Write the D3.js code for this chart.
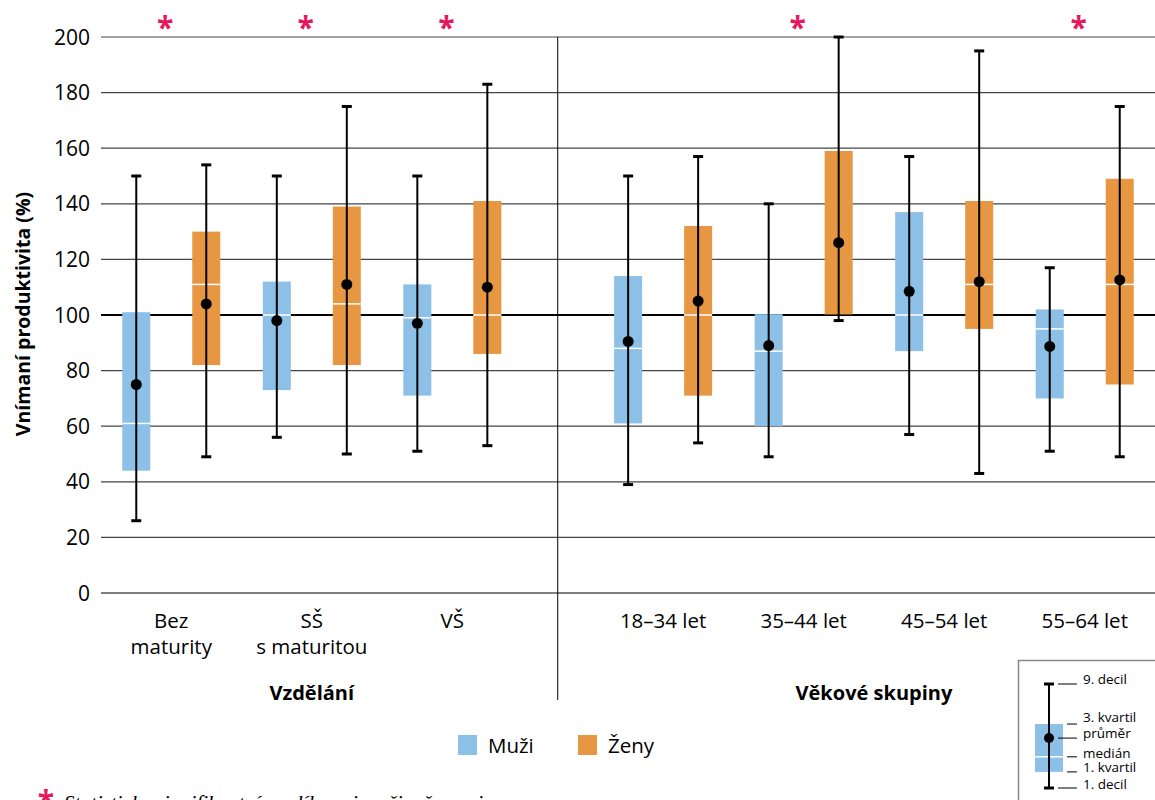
<!DOCTYPE html>
<html>
<head>
<meta charset="utf-8">
<script src="https://cdn.jsdelivr.net/npm/d3@7"></script>
<style>
  body { margin: 0; background: #fff; }
  svg { font-family: 'Open Sans', sans-serif; }
</style>
</head>
<body>
<div id="chart"></div>
<script>
// categories (line breaks split with \n)
const categories = ['Bez\nmaturity', 'SŠ\ns maturitou', 'VŠ', '18–34 let', '35–44 let', '45–54 let', '55–64 let'];
const groupNames = ['Vzdělání', 'Věkové skupiny'];
const categoryGroup = [0, 0, 0, 1, 1, 1, 1];
const significant = [true, true, true, false, true, false, true];
const yTicks = [0, 20, 40, 60, 80, 100, 120, 140, 160, 180, 200];

const seriesNames = ['Muži', 'Ženy'];
const seriesColors = ['#8cc0e6', '#e79642'];

// Muži
const menDecil1 = [26, 56, 51, 39, 49, 57, 51];
const menQ1 = [44, 73, 71, 61, 60, 87, 70];
const menMedian = [61, 100, 99, 88, 87, 100, 95];
const menMean = [75, 98, 97, 90.5, 89, 108.5, 88.7];
const menQ3 = [101, 112, 111, 114, 100.3, 137, 102];
const menDecil9 = [150, 150, 150, 150, 140, 157, 117];

// Ženy
const womenDecil1 = [49, 50, 53, 54, 98, 43, 49];
const womenQ1 = [82, 82, 86, 71, 100.2, 95, 75];
const womenMedian = [111, 104, 100, 100, 100.2, 111, 111];
const womenMean = [104, 111, 110, 105, 126, 112, 112.6];
const womenQ3 = [130, 139, 141, 132, 159, 141, 149];
const womenDecil9 = [154, 175, 183, 157, 200, 195, 175];

// legend key (sample box) and its labels
const keyValues = { d1: 0, q1: 15.5, median: 30, mean: 48, q3: 61.5, d9: 100 };
const keyLabels = [
  { key: 'd9', text: '9. decil', long: true, dy: 0 },
  { key: 'q3', text: '3. kvartil', long: false, dy: -2 },
  { key: 'mean', text: 'průměr', long: true, dy: 0 },
  { key: 'median', text: 'medián', long: false, dy: 1.5 },
  { key: 'q1', text: '1. kvartil', long: false, dy: 0.5 },
  { key: 'd1', text: '1. decil', long: true, dy: 1 }
];

const width = 1155;
const height = 800;

const svg = d3.select('#chart')
  .append('svg')
  .attr('width', width)
  .attr('height', height);

const y = d3.scaleLinear().domain([0, 200]).range([593, 37]);
// 7 categories + half a slot gap between the two groups
const xSlot = d3.scaleLinear().domain([0, 7.5]).range([101, 1155]);
const slotOf = (i) => (categoryGroup[i] === 0 ? i : i + 0.5);
const center = (i) => xSlot(slotOf(i) + 0.5);
const offset = d3.scalePoint().domain(seriesNames).range([-35, 35]);
const boxW = 28;
const capW = 10;

// gridlines
svg.append('g')
  .selectAll('line')
  .data(yTicks)
  .join('line')
  .attr('x1', xSlot(0))
  .attr('x2', xSlot(7.5))
  .attr('y1', (d) => y(d))
  .attr('y2', (d) => y(d))
  .attr('stroke', (d) => (d === 100 || d === 0 ? '#000' : '#444'))
  .attr('stroke-width', (d) => (d === 100 ? 2 : 1.2));

svg.append('g')
  .selectAll('text')
  .data(yTicks)
  .join('text')
  .attr('x', 90)
  .attr('y', (d) => y(d))
  .attr('dy', '0.36em')
  .attr('text-anchor', 'end')
  .attr('font-size', 21)
  .text((d) => d);

// divider between groups
svg.append('line')
  .attr('x1', xSlot(3.25))
  .attr('x2', xSlot(3.25))
  .attr('y1', y(200))
  .attr('y2', 700)
  .attr('stroke', '#000')
  .attr('stroke-width', 1);

svg.append('text')
  .attr('transform', `translate(30, ${y(100) - 1}) rotate(-90)`)
  .attr('text-anchor', 'middle')
  .attr('font-size', 19.5)
  .attr('font-weight', 'bold')
  .text('Vnímaní produktivita (%)');

// build rows per box
const series = [
  { name: 'Muži', d1: menDecil1, q1: menQ1, median: menMedian, mean: menMean, q3: menQ3, d9: menDecil9 },
  { name: 'Ženy', d1: womenDecil1, q1: womenQ1, median: womenMedian, mean: womenMean, q3: womenQ3, d9: womenDecil9 }
];
const boxes = [];
series.forEach((s, si) => {
  categories.forEach((c, i) => {
    boxes.push({
      x: center(i) + offset(s.name),
      color: seriesColors[si],
      d1: s.d1[i], q1: s.q1[i], median: s.median[i], mean: s.mean[i], q3: s.q3[i], d9: s.d9[i]
    });
  });
});

function drawBox(g, b, yScale, bw, cw, r) {
  g.append('rect')
    .attr('x', b.x - bw / 2)
    .attr('y', yScale(b.q3))
    .attr('width', bw)
    .attr('height', yScale(b.q1) - yScale(b.q3))
    .attr('fill', b.color);
  // median only shows when it lies inside the box
  if (b.median > b.q1 && b.median < b.q3) {
    g.append('line')
      .attr('x1', b.x - bw / 2)
      .attr('x2', b.x + bw / 2)
      .attr('y1', yScale(b.median))
      .attr('y2', yScale(b.median))
      .attr('stroke', '#fff')
      .attr('stroke-width', 1.5);
  }
  g.append('line')
    .attr('x1', b.x)
    .attr('x2', b.x)
    .attr('y1', yScale(b.d9))
    .attr('y2', yScale(b.d1))
    .attr('stroke', '#000')
    .attr('stroke-width', 2);
  [b.d1, b.d9].forEach((v) => {
    g.append('line')
      .attr('x1', b.x - cw / 2)
      .attr('x2', b.x + cw / 2)
      .attr('y1', yScale(v))
      .attr('y2', yScale(v))
      .attr('stroke', '#000')
      .attr('stroke-width', 3);
  });
  g.append('circle')
    .attr('cx', b.x)
    .attr('cy', yScale(b.mean))
    .attr('r', r)
    .attr('fill', '#000');
}

const boxLayer = svg.append('g').attr('class', 'boxes');
boxes.forEach((b) => drawBox(boxLayer.append('g'), b, y, boxW, capW, 5.5));

// significance asterisks
svg.append('g')
  .selectAll('text')
  .data(categories.map((c, i) => i).filter((i) => significant[i]))
  .join('text')
  .attr('x', (i) => center(i) - 6)
  .attr('y', 38)
  .attr('text-anchor', 'middle')
  .attr('font-size', 30)
  .attr('font-weight', 'bold')
  .attr('fill', '#e8175d')
  .text('*');

// category labels
const catLabels = svg.append('g')
  .selectAll('text')
  .data(categories)
  .join('text')
  .attr('x', (d, i) => center(i))
  .attr('y', 628)
  .attr('text-anchor', 'middle')
  .attr('font-size', 20.5);
catLabels.selectAll('tspan')
  .data((d) => d.split('\n'))
  .join('tspan')
  .attr('x', function () { return d3.select(this.parentNode).attr('x'); })
  .attr('dy', (d, k) => (k === 0 ? 0 : 26))
  .text((d) => d);

// group labels
svg.append('g')
  .selectAll('text')
  .data(groupNames)
  .join('text')
  .attr('x', (d, gi) => {
    const idx = categoryGroup.map((g, i) => (g === gi ? i : -1)).filter((i) => i >= 0);
    return (center(idx[0]) + center(idx[idx.length - 1])) / 2;
  })
  .attr('y', 700)
  .attr('text-anchor', 'middle')
  .attr('font-size', 20)
  .attr('font-weight', 'bold')
  .text((d) => d);

// series legend
const legend = svg.append('g').attr('transform', 'translate(458, 735)');
seriesNames.forEach((name, i) => {
  const lg = legend.append('g').attr('transform', `translate(${i * 120}, 0)`);
  lg.append('rect')
    .attr('width', 19)
    .attr('height', 20)
    .attr('fill', seriesColors[i]);
  lg.append('text')
    .attr('x', 30)
    .attr('y', 18)
    .attr('font-size', 20.5)
    .text(name);
});

// key box
const key = svg.append('g').attr('class', 'key');
key.append('rect')
  .attr('x', 1018.5)
  .attr('y', 660.5)
  .attr('width', 160)
  .attr('height', 160)
  .attr('fill', '#fff')
  .attr('stroke', '#888')
  .attr('stroke-width', 1.5);

const yKey = d3.scaleLinear().domain([0, 100]).range([788, 684]);
drawBox(key.append('g'), Object.assign({ x: 1049, color: seriesColors[0] }, keyValues), yKey, 28, 10, 5);

keyLabels.forEach((l) => {
  const ly = yKey(keyValues[l.key]);
  key.append('line')
    .attr('x1', l.long ? 1058 : 1067)
    .attr('x2', 1077)
    .attr('y1', ly)
    .attr('y2', ly)
    .attr('stroke', '#000')
    .attr('stroke-width', 1);
  key.append('text')
    .attr('x', 1083)
    .attr('y', ly + l.dy)
    .attr('font-size', 13.5)
    .text(l.text);
});

// footnote (cut off at the bottom edge, as in the source)
svg.append('text')
  .attr('x', 46)
  .attr('y', 812)
  .attr('text-anchor', 'middle')
  .attr('font-size', 30)
  .attr('font-weight', 'bold')
  .attr('fill', '#e8175d')
  .text('*');
svg.append('text')
  .attr('x', 64)
  .attr('y', 810)
  .attr('font-family', 'Liberation Serif, serif')
  .attr('font-style', 'italic')
  .attr('font-size', 21)
  .text('Statisticky signifikantní rozdíl mezi muži a ženami');
</script>
</body>
</html>
